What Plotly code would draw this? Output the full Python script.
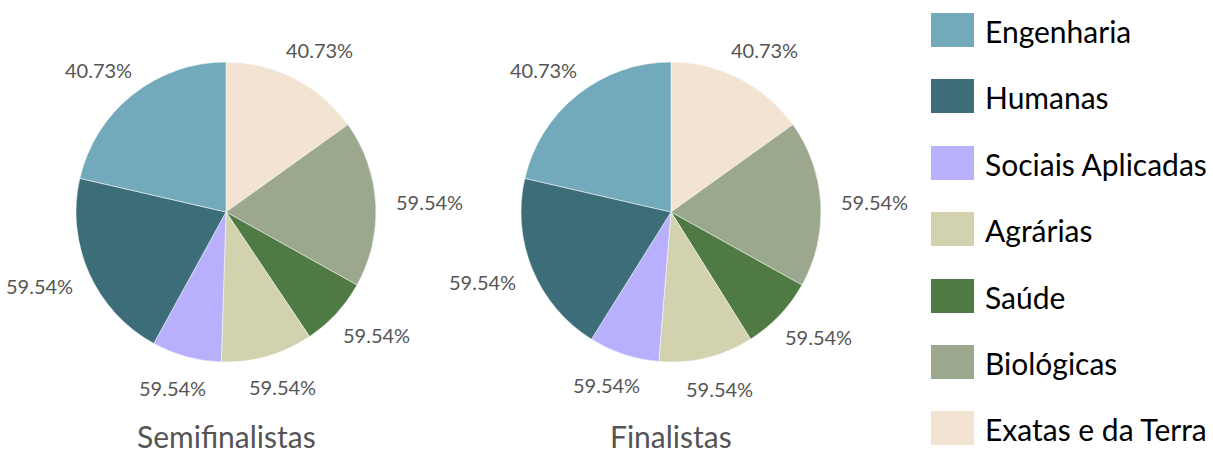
import math
import plotly.graph_objects as go

categories = ["Engenharia", "Humanas", "Sociais Aplicadas", "Agrárias", "Saúde", "Biológicas", "Exatas e da Terra"]
semifinalistas = [21.4, 20.6, 7.5, 9.9, 7.5, 18.0, 15.1]
finalistas = [21.4, 19.7, 7.6, 10.2, 8.0, 18.0, 15.1]
slice_labels = ["40.73%", "59.54%", "59.54%", "59.54%", "59.54%", "59.54%", "40.73%"]
colors = ["#72aabb", "#3d6d78", "#b8b0fc", "#d2d2ae", "#507a44", "#9ba88e", "#f3e3d3"]
titles = ["Semifinalistas", "Finalistas"]

W, H = 1213, 451
FONT = "Lato"
CY, R = 212, 150

fig = go.Figure()

def dom(cx, cy, r):
    return dict(x=[(cx - r) / W, (cx + r) / W], y=[(H - cy - r) / H, (H - cy + r) / H])

# slices go clockwise from 12 o'clock starting with the last category
order = list(reversed(range(len(categories))))

for vals, cx, title in [(semifinalistas, 226, titles[0]), (finalistas, 671, titles[1])]:
    fig.add_trace(go.Pie(
        labels=[categories[i] for i in order], values=[vals[i] for i in order],
        marker=dict(colors=[colors[i] for i in order], line=dict(color="white", width=0.5)),
        textinfo="none", sort=False, direction="clockwise", rotation=0,
        domain=dom(cx, CY, R), showlegend=False, hoverinfo="label+value",
    ))
    # outside labels, positioned at each slice's mid-angle
    total = sum(vals)
    cum = 0.0
    for i in order:
        mid = (cum + vals[i] / 2) / total * 2 * math.pi
        cum += vals[i]
        ux, uy = math.sin(mid), math.cos(mid)
        px = cx + (R + 20) * ux + 34 * ux
        py = CY - (R + 20) * uy - 12 * uy
        fig.add_annotation(text=slice_labels[i], x=px / W, y=1 - py / H, xref="paper", yref="paper",
                           xanchor="center", yanchor="middle", showarrow=False,
                           font=dict(family=FONT, size=20, color="#555555"))
    fig.add_annotation(text=title, x=cx / W, y=1 - 436 / H, xref="paper", yref="paper",
                       xanchor="center", yanchor="middle", showarrow=False,
                       font=dict(family=FONT, size=30, color="#555555"))

# legend built manually
row_tops = [13, 79, 146, 212, 279, 345, 411]
for cat, col, top in zip(categories, colors, row_tops):
    fig.add_shape(type="rect", xref="paper", yref="paper",
                  x0=931 / W, x1=974 / W, y0=1 - (top + 34) / H, y1=1 - top / H,
                  fillcolor=col, line=dict(width=0))
    fig.add_annotation(text=cat, x=983 / W, y=1 - (top + 18) / H, xref="paper", yref="paper",
                       xanchor="left", yanchor="middle", showarrow=False,
                       font=dict(family=FONT, size=30, color="#000000"))

fig.update_layout(width=W, height=H, margin=dict(l=0, r=0, t=0, b=0),
                  paper_bgcolor="white", plot_bgcolor="white")
fig.write_html("out.html", config={"displayModeBar": False},
               post_script="document.body.style.margin='0';document.body.style.overflow='hidden';")
